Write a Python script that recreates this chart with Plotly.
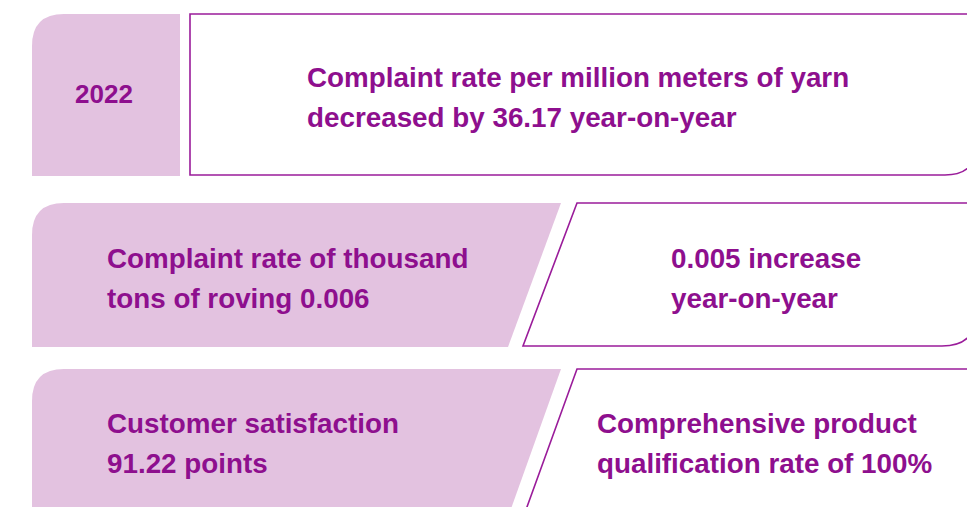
import plotly.graph_objects as go

PINK = "#e3c2e0"
PURPLE = "#8e0f8e"
LINE = "#9a1c9a"
FONT = "Liberation Sans, Arial, sans-serif"

# Text content
year_label = ["2022"]
row1_text = ["Complaint rate per million meters of yarn", "decreased by 36.17 year-on-year"]
row2_left = ["Complaint rate of thousand", "tons of roving 0.006"]
row2_right = ["0.005 increase", "year-on-year"]
row3_left = ["Customer satisfaction", "91.22 points"]
row3_right = ["Comprehensive product", "qualification rate of 100%"]

W, H = 967, 507
fig = go.Figure()
fig.add_trace(go.Scatter(x=[0, W], y=[0, H], mode="markers", marker=dict(opacity=0), hoverinfo="skip", showlegend=False))

shapes = []
# Row 1 pink block with rounded top-left
shapes.append(dict(type="path", path="M 32 176 L 32 46 Q 32 14 64 14 L 180 14 L 180 176 Z",
                   fillcolor=PINK, line=dict(width=0)))
# Row 1 outline box, rounded bottom-right
shapes.append(dict(type="path", path="M 190 14 L 977 14 L 977 143 Q 977 175 945 175 L 190 175 Z",
                   fillcolor="rgba(0,0,0,0)", line=dict(color=LINE, width=1.6)))
# Row 2 pink block (rounded top-left, slanted right edge)
shapes.append(dict(type="path", path="M 32 347 L 32 235 Q 32 203 64 203 L 561 203 L 508 347 Z",
                   fillcolor=PINK, line=dict(width=0)))
# Row 2 outline parallelogram, rounded bottom-right
shapes.append(dict(type="path", path="M 577 203 L 977 203 L 977 311 Q 977 346 942 346 L 523 346 Z",
                   fillcolor="rgba(0,0,0,0)", line=dict(color=LINE, width=1.6)))
# Row 3 pink block
shapes.append(dict(type="path", path="M 32 520 L 32 401 Q 32 369 64 369 L 561 369 L 507 520 Z",
                   fillcolor=PINK, line=dict(width=0)))
# Row 3 outline
shapes.append(dict(type="path", path="M 577 369 L 990 369 L 990 540 L 515 540 Z",
                   fillcolor="rgba(0,0,0,0)", line=dict(color=LINE, width=1.6)))

annotations = []
def add_lines(lines, x, y0, dy=40, size=27.8, anchor="left"):
    for i, t in enumerate(lines):
        annotations.append(dict(x=x, y=y0 + i * dy, xref="x", yref="y", text="<b>%s</b>" % t,
                                showarrow=False, xanchor=anchor, yanchor="middle",
                                font=dict(family=FONT, size=size, color=PURPLE)))

add_lines(year_label, 104, 94, size=26, anchor="center")
add_lines(row1_text, 305, 77)
add_lines(row2_left, 105, 258)
add_lines(row2_right, 669, 258)
add_lines(row3_left, 105, 423)
add_lines(row3_right, 595, 423)

fig.update_layout(
    width=W, height=H, margin=dict(l=0, r=0, t=0, b=0),
    paper_bgcolor="white", plot_bgcolor="white",
    xaxis=dict(range=[0, W], visible=False, fixedrange=True),
    yaxis=dict(range=[H, 0], visible=False, fixedrange=True),
    shapes=shapes, annotations=annotations, showlegend=False,
)
fig.write_html("out.html", config={"displayModeBar": False},
               post_script="document.body.style.margin='0';document.body.style.overflow='hidden';")
